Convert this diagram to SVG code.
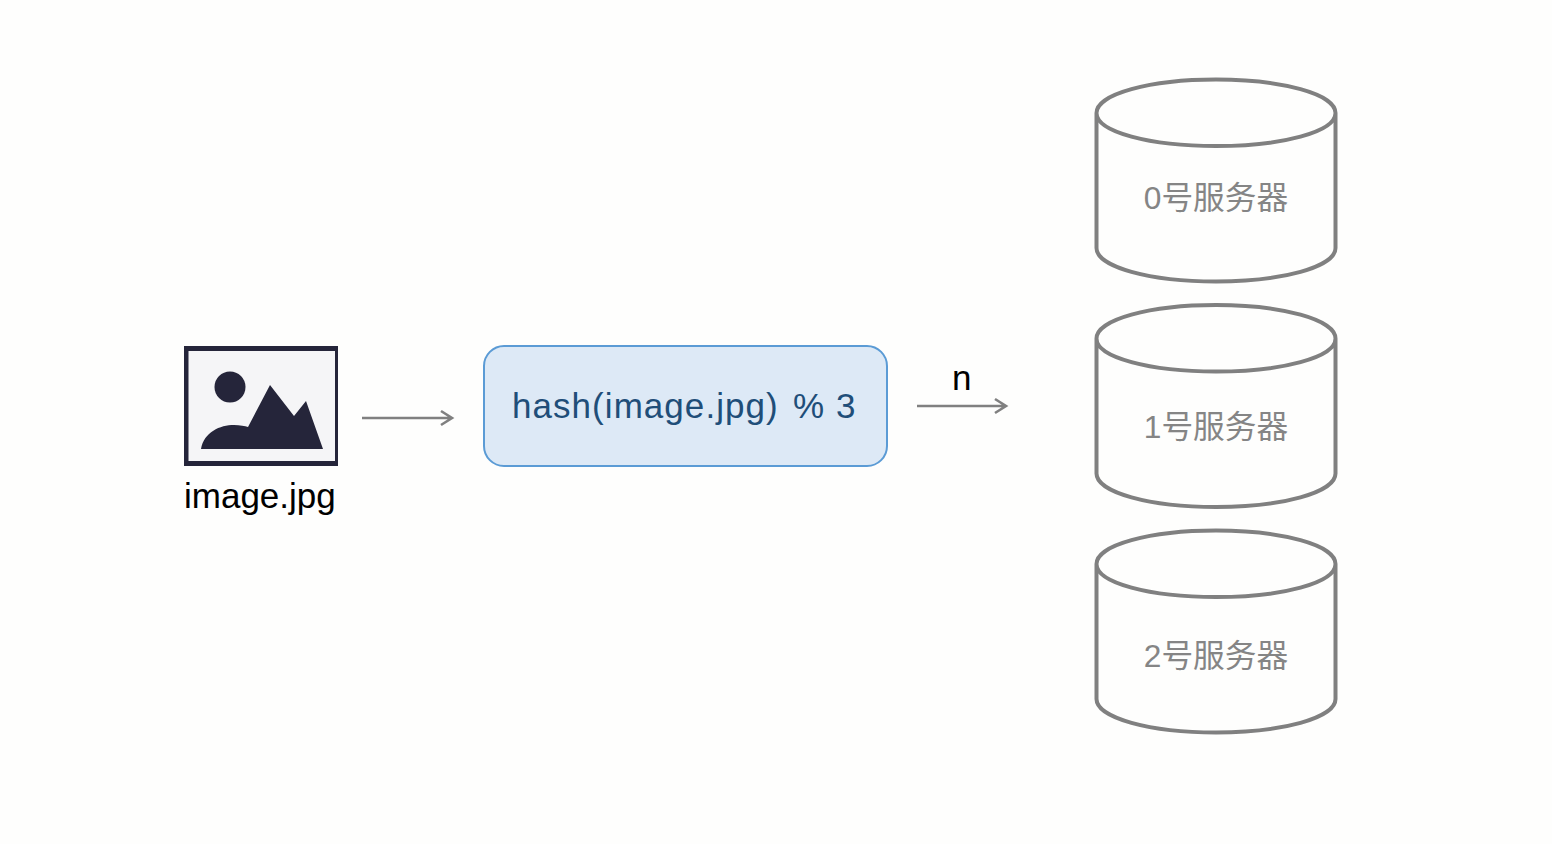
<svg xmlns="http://www.w3.org/2000/svg" width="1552" height="844" viewBox="0 0 1552 844">
<style>
.cyl{fill:none;stroke:#808080;stroke-width:4}
.cylt{font-family:"Liberation Sans","Noto Sans CJK SC",sans-serif;font-size:31.700px;fill:#858585;text-anchor:middle;opacity:.999}
.lbl{font-family:"Liberation Sans","Noto Sans CJK SC",sans-serif;font-size:35px;fill:#000;opacity:.999}
.hash{font-family:"Liberation Sans",sans-serif;font-size:35px;fill:#1f4e79;opacity:.999}
.conn{fill:none;stroke:#808080;stroke-width:2.600}
</style>
<defs>
<g id="can">
<path class="cyl" d="M1096.500 113C1096.500 94 1150 79.500 1216 79.500C1282 79.500 1335.500 94 1335.500 113C1335.500 132 1282 146 1216 146C1150 146 1096.500 132 1096.500 113ZM1096.500 113V248C1096.500 267 1150 281.500 1216 281.500C1282 281.500 1335.500 267 1335.500 248V113"/>
</g>
</defs>
<rect width="1552" height="844" fill="#fefefd"/>
<g id="image">
<rect x="184" y="346" width="154" height="120" fill="#25253a"/>
<rect x="188.500" y="351" width="146.500" height="110" fill="#f5f5f7"/>
<circle cx="230" cy="387" r="15.500" fill="#25253a"/>
<path d="M201 449C204 432 220 425 234 425C240 425 245 426 248 427L270 385L294 416L306 401L323 449Z" fill="#25253a"/>
<text class="lbl" x="184" y="508">image.jpg</text>
</g>
<g id="hash">
<rect x="484" y="346" width="403" height="120" rx="20" fill="#dde9f6" stroke="#5b9bd5" stroke-width="2"/>
<text class="hash" x="512" y="417.500" letter-spacing="1.050">hash(image.jpg)</text>
<text class="hash" x="793" y="417.500">%</text>
<text class="hash" x="836" y="417.500">3</text>
</g>
<g id="server0"><use href="#can"/><text class="cylt" x="1216" y="209">0号服务器</text></g>
<g id="server1"><use href="#can" y="225.500"/><text class="cylt" x="1216" y="438">1号服务器</text></g>
<g id="server2"><use href="#can" y="451"/><text class="cylt" x="1216" y="667">2号服务器</text></g>
<g id="connectors">
<path class="conn" d="M362 418H451M441 411L452 418L441 425"/>
<path class="conn" d="M917 406H1005M995 399L1006 406L995 413"/>
<text class="lbl" x="952" y="390">n</text>
</g>
</svg>
